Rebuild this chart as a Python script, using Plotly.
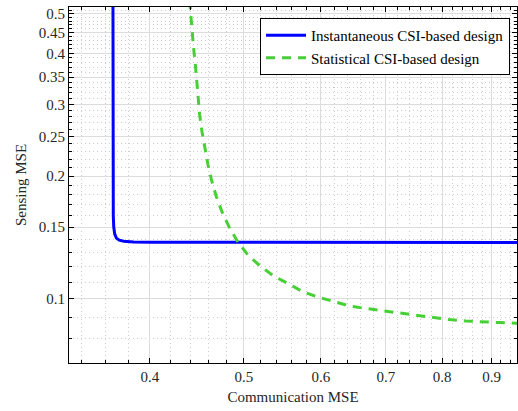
import plotly.graph_objects as go

# Pareto boundaries: communication MSE (x) vs. sensing MSE (y)
inst_comm = [0.3665, 0.3665, 0.3666, 0.3668, 0.3672, 0.3680, 0.3695, 0.3720,
             0.3760, 0.3850, 0.400, 0.450, 0.500, 0.600, 0.700, 0.800, 0.900, 0.970]
inst_sens = [0.560, 0.300, 0.200, 0.160, 0.150, 0.1445, 0.1410, 0.1393,
             0.1385, 0.1380, 0.1378, 0.1377, 0.1376, 0.1375, 0.1375, 0.1375, 0.1375, 0.1375]

stat_comm = [0.4395, 0.4406, 0.4426, 0.4439, 0.4457, 0.4471, 0.4488, 0.4502,
             0.4527, 0.4556, 0.4592, 0.4632, 0.4684, 0.4746, 0.4826, 0.4929,
             0.5047, 0.5197, 0.5363, 0.5556, 0.5749, 0.5967, 0.6197, 0.6432,
             0.6690, 0.6947, 0.7240, 0.7520, 0.7818, 0.8136, 0.8462, 0.8805,
             0.9158, 0.9528, 0.9700]
stat_sens = [0.540, 0.4966, 0.4505, 0.4093, 0.3730, 0.3408, 0.3103, 0.2825,
             0.2570, 0.2341, 0.2130, 0.1950, 0.1781, 0.1637, 0.1504, 0.1379,
             0.1282, 0.1205, 0.1139, 0.1090, 0.1042, 0.1010, 0.0983, 0.0960,
             0.0947, 0.0936, 0.0926, 0.0914, 0.0902, 0.0890, 0.0883, 0.0878,
             0.0875, 0.0872, 0.0871]

x_ticks = [0.4, 0.5, 0.6, 0.7, 0.8, 0.9]
x_labels = ["0.4", "0.5", "0.6", "0.7", "0.8", "0.9"]
y_ticks = [0.1, 0.15, 0.2, 0.25, 0.3, 0.35, 0.4, 0.45, 0.5]
y_labels = ["0.1", "0.15", "0.2", "0.25", "0.3", "0.35", "0.4", "0.45", "0.5"]

# minor ticks: every 0.02 along x, every 0.01 along y
x_minor = [round(0.32 + 0.02 * i, 2) for i in range(33)]
x_minor = [v for v in x_minor if v not in x_ticks]
y_minor = [round(0.07 + 0.01 * i, 2) for i in range(46)]
y_minor = [v for v in y_minor if v not in y_ticks]

serif = "Liberation Serif"
text_color = "#262626"

fig = go.Figure()
fig.add_trace(go.Scatter(
    x=inst_comm, y=inst_sens, mode="lines",
    name="Instantaneous CSI-based design",
    line=dict(color="#0000FF", width=3),
))
fig.add_trace(go.Scatter(
    x=stat_comm, y=stat_sens, mode="lines",
    name="Statistical CSI-based design",
    line=dict(color="#47CF36", width=3, dash="9px,7px"),
))

axis_common = dict(
    type="log",
    showline=True, linecolor="black", linewidth=1, mirror="ticks",
    ticks="inside", ticklen=5, tickcolor="black", tickwidth=1,
    showgrid=True, gridcolor="#dcdcdc", gridwidth=1,
    zeroline=False,
    tickfont=dict(family=serif, size=15, color=text_color),
)

minor_common = dict(
    tickmode="array", ticks="inside", ticklen=3, tickcolor="black",
    showgrid=True, gridcolor="#cccccc", griddash="1px,3px", gridwidth=1,
)

fig.update_xaxes(
    **axis_common,
    range=[-0.4812, -0.0197],
    tickmode="array", tickvals=x_ticks, ticktext=x_labels,
    minor=dict(tickvals=x_minor, **minor_common),
    title=dict(text="Communication MSE", font=dict(family=serif, size=15, color=text_color),
               standoff=7),
)
fig.update_yaxes(
    **axis_common,
    range=[-1.157, -0.2843],
    tickmode="array", tickvals=y_ticks, ticktext=y_labels,
    minor=dict(tickvals=y_minor, **minor_common),
    title=dict(text="Sensing MSE", font=dict(family=serif, size=15, color=text_color),
               standoff=8),
)

fig.update_layout(
    width=518, height=411,
    margin=dict(l=69, r=1, t=7, b=48, autoexpand=False),
    paper_bgcolor="white", plot_bgcolor="white",
    showlegend=True,
    legend=dict(
        x=0.9844, y=0.969, xanchor="right", yanchor="top",
        bgcolor="white", bordercolor="black", borderwidth=1,
        font=dict(family=serif, size=15, color="black"),
        tracegroupgap=0, itemwidth=40,
    ),
)

fig.write_html("out.html")
